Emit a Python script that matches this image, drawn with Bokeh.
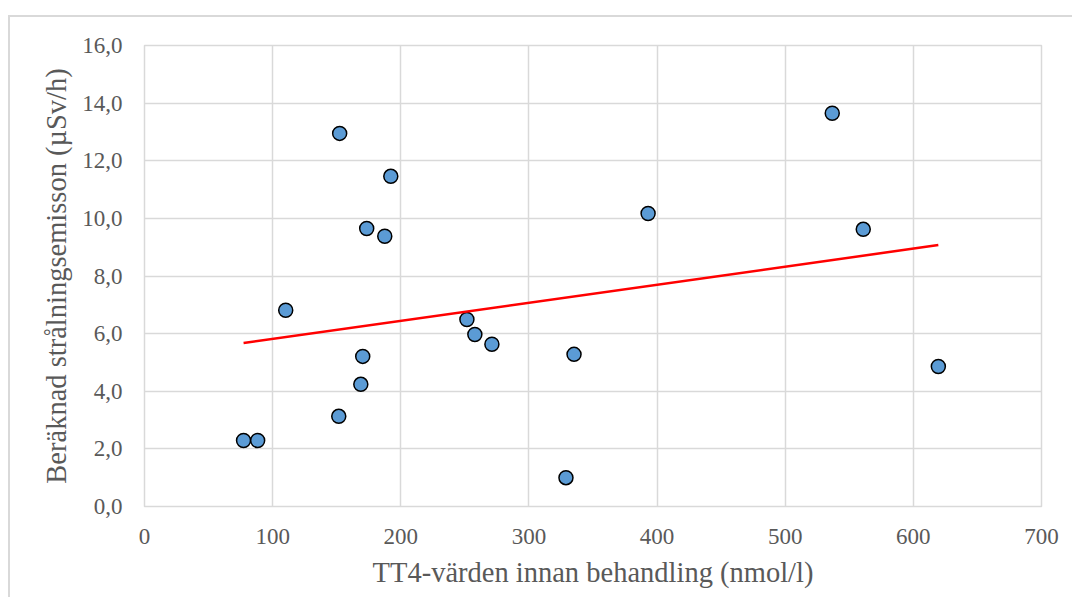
import numpy as np
from bokeh.plotting import figure
from bokeh.models import FixedTicker, CustomJSTickFormatter
from bokeh.embed import file_html
from bokeh.resources import INLINE

# TT4 values before treatment (nmol/l)
tt4 = [77.3, 88.3, 110.2, 151.6, 152.3, 168.8, 170.3, 173.4, 187.5, 192.2,
       251.6, 257.8, 271.1, 328.9, 335.2, 393.0, 536.7, 560.9, 619.5]
# Calculated radiation emission (uSv/h)
emission = [2.29, 2.29, 6.81, 3.13, 12.95, 4.24, 5.21, 9.65, 9.38, 11.46,
            6.49, 5.97, 5.63, 1.00, 5.28, 10.17, 13.65, 9.62, 4.86]

x_ticks = [0, 100, 200, 300, 400, 500, 600, 700]
y_ticks = [0, 2, 4, 6, 8, 10, 12, 14, 16]

x_title = "TT4-värden innan behandling (nmol/l)"
y_title = "Beräknad strålningsemisson (µSv/h)"

FONT = "Liberation Serif"
GRID = "#d9d9d9"
TXT = "#595959"

p = figure(width=1064, height=582, output_backend="svg", toolbar_location=None,
           x_range=(0, 700), y_range=(0, 16),
           min_border_left=134, min_border_right=33,
           min_border_top=28, min_border_bottom=93,
           styles={"margin-left": "8px", "margin-top": "15px",
                   "border-left": "2px solid #d9d9d9",
                   "border-top": "2px solid #d9d9d9"})

p.outline_line_color = GRID
p.outline_line_width = 1.5

p.xaxis.ticker = FixedTicker(ticks=x_ticks)
p.yaxis.ticker = FixedTicker(ticks=y_ticks)
p.yaxis.formatter = CustomJSTickFormatter(code="return tick.toFixed(1).replace('.', ',');")

for ax in (p.xaxis[0], p.yaxis[0]):
    ax.axis_line_color = None
    ax.major_tick_line_color = None
    ax.minor_tick_line_color = None
    ax.major_label_text_font = FONT
    ax.major_label_text_font_size = "23px"
    ax.major_label_text_color = TXT
    ax.axis_label_text_font = FONT
    ax.axis_label_text_font_size = "28.5px"
    ax.axis_label_text_color = TXT
    ax.axis_label_text_font_style = "normal"

p.xaxis.axis_label = x_title
p.yaxis.axis_label = y_title
p.xaxis.major_label_standoff = 16
p.xaxis.axis_label_standoff = 10
p.yaxis.major_label_standoff = 16
p.yaxis.axis_label_standoff = 7

p.xgrid.grid_line_color = GRID
p.ygrid.grid_line_color = GRID
p.xgrid.grid_line_width = 1.5
p.ygrid.grid_line_width = 1.5

p.scatter(tt4, emission, size=14, fill_color="#5b9bd5", line_color="black", line_width=1.5)

# linear trendline (least squares) over the data range
k, m = np.polyfit(tt4, emission, 1)
xs = [min(tt4), max(tt4)]
p.line(xs, [k * v + m for v in xs], line_color="#ff0000", line_width=2.5)

open("out.html", "w").write(file_html(p, INLINE))
